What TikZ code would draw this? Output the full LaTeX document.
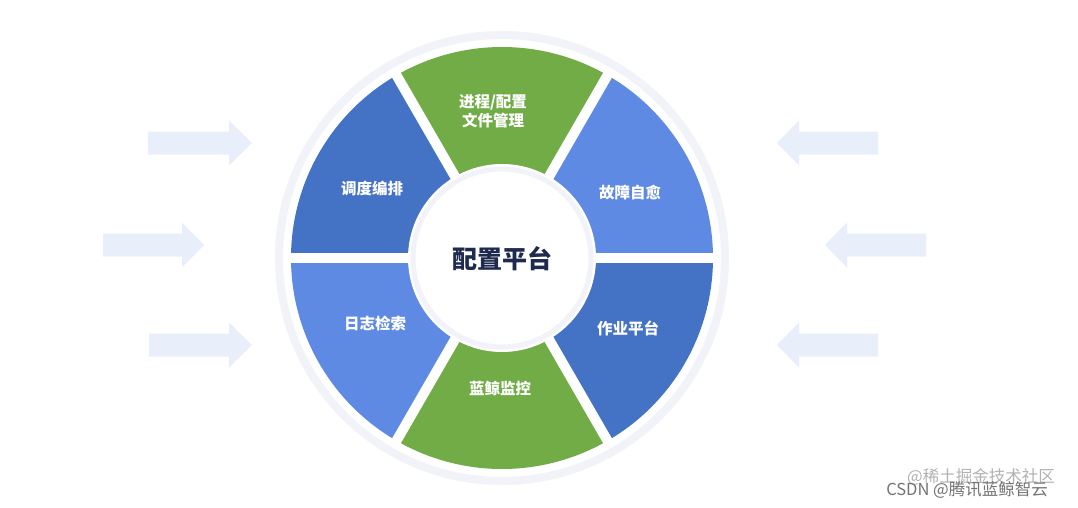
\documentclass[tikz,border=0pt]{standalone}
\usepackage{fontspec}
\newfontfamily\cjk{Noto Sans CJK SC}
\usetikzlibrary{calc}
\definecolor{dblue}{HTML}{4472C4}
\definecolor{lblue}{HTML}{5F8AE3}
\definecolor{sgreen}{HTML}{71AC47}
\definecolor{navy}{HTML}{1E2A4E}
\definecolor{arrowc}{HTML}{E9EFFA}
\definecolor{ringc}{HTML}{F1F3F9}
\newcommand\fatarrow[4]{% tail, head base, tip, cy
  \fill[arrowc] (#1,#4-11.5) -- (#2,#4-11.5) -- (#2,#4-22.5) -- (#3,#4) -- (#2,#4+22.5) -- (#2,#4+11.5) -- (#1,#4+11.5) -- cycle;}
\tikzset{
  seglabel/.style={text=white, font=\cjk\bfseries\fontsize{15.5}{19}\selectfont, align=center, inner sep=0pt},
  wmark/.style={font=\cjk\fontsize{16.5}{18}\selectfont, inner sep=0pt}
}
\begin{document}
\begin{tikzpicture}[x=1pt,y=-1pt]
\useasboundingbox (0,0) rectangle (1078,508);
\fill[white] (0,0) rectangle (1078,508);
\coordinate (c) at (502,258);
% arrows
\fatarrow{148}{229}{252}{143}
\fatarrow{103}{182}{204}{245}
\fatarrow{149}{229}{252}{345}
\fatarrow{878}{799}{777}{143}
\fatarrow{926}{847}{825}{245}
\fatarrow{878}{799}{777}{345}
% outer faint ring
\draw[ringc, line width=8] (c) circle[radius=223];
% sectors
\fill[sgreen] (c) -- ++(240:211) arc[start angle=240, end angle=300, radius=211] -- cycle;
\fill[lblue]  (c) -- ++(300:211) arc[start angle=300, end angle=360, radius=211] -- cycle;
\fill[dblue]  (c) -- ++(0:211) arc[start angle=0, end angle=60, radius=211] -- cycle;
\fill[sgreen] (c) -- ++(60:211) arc[start angle=60, end angle=120, radius=211] -- cycle;
\fill[lblue]  (c) -- ++(120:211) arc[start angle=120, end angle=180, radius=211] -- cycle;
\fill[dblue]  (c) -- ++(180:211) arc[start angle=180, end angle=240, radius=211] -- cycle;
% gaps
\foreach \a in {0,60,120}
  \draw[white, line width=10] ($(c)+(\a:216)$) -- ($(c)+(\a+180:216)$);
% inner circle
\fill[white] (c) circle[radius=94];
\draw[ringc, line width=5] (c) circle[radius=89];
% labels
\node[font=\cjk\bfseries\fontsize{25}{30}\selectfont, text=navy, inner sep=0pt] (center) at (502,259) {配置平台};
\node[seglabel] (s1) at (493,111) {进程/配置\\文件管理};
\node[seglabel] (s2) at (630,193) {故障自愈};
\node[seglabel] (s3) at (628,328) {作业平台};
\node[seglabel] (s4) at (500,388) {蓝鲸监控};
\node[seglabel] (s5) at (375,323) {日志检索};
\node[seglabel] (s6) at (372,189) {调度编排};
% watermarks
\node[wmark, text=black!30] (w1) at (981,477) {@稀土掘金技术社区};
\node[wmark, text=black!55] (w2) at (967,490) {CSDN @腾讯蓝鲸智云};
\end{tikzpicture}
\end{document}
